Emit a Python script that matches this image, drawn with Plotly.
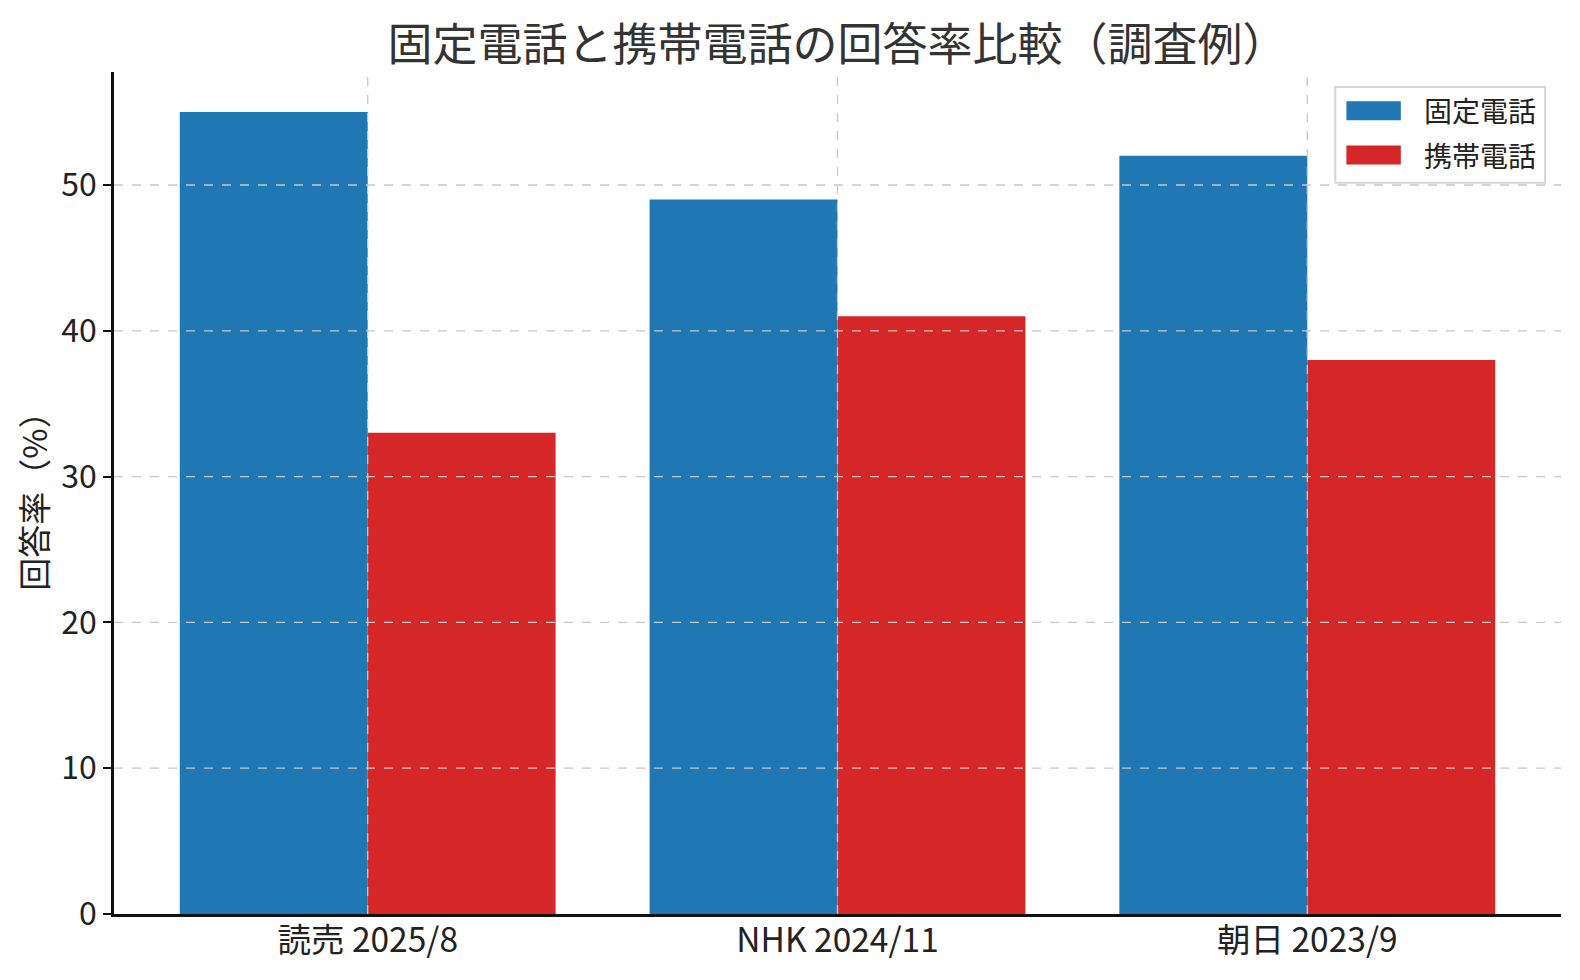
import plotly.graph_objects as go

# データ
categories = ["読売 2025/8", "NHK 2024/11", "朝日 2023/9"]
landline = [55, 49, 52]
mobile = [33, 41, 38]
series_names = ["固定電話", "携帯電話"]
y_ticks = [0, 10, 20, 30, 40, 50]

FONT = "Noto Sans CJK JP"
BLUE = "#1f77b4"
RED = "#d62728"
GRID = "#c8c8c8"
colors = [BLUE, RED]

fig = go.Figure()
fig.add_trace(go.Bar(x=categories, y=landline, name=series_names[0], marker=dict(color=BLUE, line=dict(width=0))))
fig.add_trace(go.Bar(x=categories, y=mobile, name=series_names[1], marker=dict(color=RED, line=dict(width=0))))

# matplotlib風にグリッドを棒の上に描く
shapes = []
for v in y_ticks[1:]:
    shapes.append(dict(type="line", xref="paper", yref="y", x0=0, x1=1, y0=v, y1=v,
                       line=dict(color=GRID, width=1.3, dash="dash"), layer="above"))
for i, _ in enumerate(categories):
    shapes.append(dict(type="line", xref="x", yref="paper", x0=i, x1=i, y0=0, y1=1,
                       line=dict(color=GRID, width=1.3, dash="dash"), layer="above"))

# 凡例は手描き（横長の色見本にするため）
shapes.append(dict(type="rect", xref="paper", yref="paper", x0=0.8440, x1=0.9890, y0=0.8684, y1=0.9821,
                   line=dict(color="#d6d6d6", width=2), fillcolor="rgba(255,255,255,0.85)", layer="above"))
annotations = []
legend_rows = [(0.9653, 0.9426, 0.9545), (0.9127, 0.8900, 0.9019)]
for name, col, (top, bot, mid) in zip(series_names, colors, legend_rows):
    shapes.append(dict(type="rect", xref="paper", yref="paper", x0=0.8517, x1=0.8893, y0=bot, y1=top,
                       line=dict(width=0), fillcolor=col, layer="above"))
    annotations.append(dict(text=name, xref="paper", yref="paper", x=0.9036, y=mid,
                            xanchor="left", yanchor="middle", showarrow=False,
                            font=dict(family=FONT, size=28, color="#222222")))

fig.update_layout(
    width=1580, height=980,
    margin=dict(l=106, r=27, t=64, b=74),
    paper_bgcolor="white", plot_bgcolor="white",
    font=dict(family=FONT, size=32, color="#222222"),
    title=dict(text="固定電話と携帯電話の回答率比較（調査例）", xref="paper", x=0.5, xanchor="center",
               y=0.962, yanchor="middle", font=dict(family=FONT, size=45, color="#333333")),
    barmode="group", bargap=0.2, bargroupgap=0,
    shapes=shapes,
    annotations=annotations,
    showlegend=False,
)

fig.update_xaxes(
    range=[-0.54, 2.54], showgrid=False, showline=True, linecolor="#111111", linewidth=2.5,
    ticks="", tickfont=dict(size=33.5), ticklabelstandoff=-5, automargin=False,
)
fig.update_yaxes(
    range=[0, 57.75], tickvals=y_ticks, showgrid=False, zeroline=False,
    showline=True, linecolor="#111111", linewidth=2.5,
    ticks="outside", ticklen=8, tickwidth=2, tickcolor="#111111",
    tickfont=dict(size=32), automargin=False,
    title=dict(text="回答率（%）", font=dict(size=33), standoff=4),
)

fig.write_html("out.html")
